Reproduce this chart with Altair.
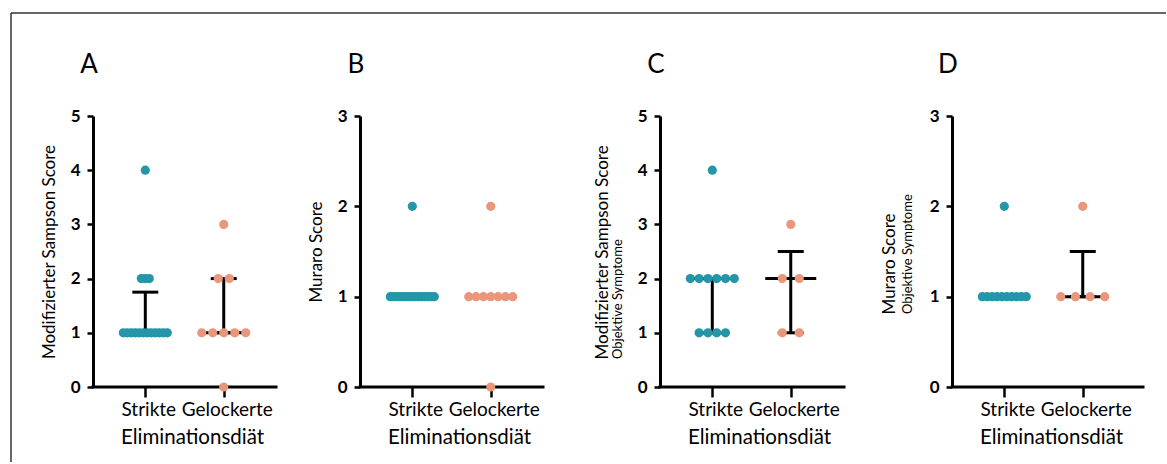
import altair as alt
import numpy as np
import pandas as pd

# ---- data -------------------------------------------------------------
GROUPS = ["Strikte", "Gelockerte"]
GROUP_POS = [1.0, 2.5]

A_STRIKTE = [1, 1, 1, 1, 1, 1, 1, 1, 1, 1, 1, 1, 2, 2, 2, 4]
A_GELOCKERTE = [0, 1, 1, 1, 1, 1, 2, 2, 3]
B_STRIKTE = [1, 1, 1, 1, 1, 1, 1, 1, 1, 1, 1, 1, 1, 1, 1, 2]
B_GELOCKERTE = [0, 1, 1, 1, 1, 1, 1, 1, 2]
C_STRIKTE = [1, 1, 1, 1, 2, 2, 2, 2, 2, 2, 4]
C_GELOCKERTE = [1, 1, 2, 2, 3]
D_STRIKTE = [1, 1, 1, 1, 1, 1, 1, 1, 1, 1, 2]
D_GELOCKERTE = [1, 1, 1, 1, 2]

LETTERS = ["A", "B", "C", "D"]
Y_TITLES = ["Modifizierter Sampson Score", "Muraro Score",
            "Modifizierter Sampson Score", "Muraro Score"]
Y_SUBTITLES = ["", "", "Objektive Symptome", "Objektive Symptome"]
Y_MAX = [5, 3, 5, 3]
X_TITLE = "Eliminationsdiät"

PANEL_VALUES = [
    (A_STRIKTE, A_GELOCKERTE),
    (B_STRIKTE, B_GELOCKERTE),
    (C_STRIKTE, C_GELOCKERTE),
    (D_STRIKTE, D_GELOCKERTE),
]

# ---- layout / style ---------------------------------------------------
BLUE = "#2596A9"
ORANGE = "#E9967A"
FONT = "Lato"
PPU = 52.3                      # pixels per x unit
HEIGHT = 271
PANEL_WIDTHS = [267, 300, 292, 195]
AXIS_LENGTHS = [183, 183, 184, 191]
# y-title placement: (x, y, align) for the main title, x for subtitle
Y_TITLE_POS = [(-44, HEIGHT / 2, "center"), (-44, HEIGHT / 2, "center"),
               (-58, 243, "left"), (-63, 198, "left")]
SUB_X = [0, 0, -42, -44]


def swarm(values, centre):
    """Centred rows of dots per value, compressed to fit the column."""
    counts = pd.Series(sorted(values)).value_counts().sort_index()
    kmax = counts.max()
    step = 17.0 if kmax < 2 else min(17.0, 44.0 / (kmax - 1))
    rows = []
    for v, k in counts.items():
        for i in range(k):
            off = (i - (k - 1) / 2) * step
            rows.append({"x": centre + off / PPU, "y": float(v)})
    return rows


def median_iqr(values, centre):
    q1, med, q3 = np.percentile(values, [25, 50, 75], method="weibull")
    cap = 13 / PPU
    mline = 25.5 / PPU
    segs = [{"x": centre - mline, "x2": centre + mline, "y": med, "y2": med}]
    if q3 > q1:
        segs += [
            {"x": centre, "x2": centre, "y": q1, "y2": q3},
            {"x": centre - cap, "x2": centre + cap, "y": q1, "y2": q1},
            {"x": centre - cap, "x2": centre + cap, "y": q3, "y2": q3},
        ]
    return segs


def panel(i):
    strikte, gelockerte = PANEL_VALUES[i]
    width = PANEL_WIDTHS[i]
    ymax = Y_MAX[i]

    pts = []
    segs = []
    for g, pos, vals in zip(GROUPS, GROUP_POS, (strikte, gelockerte)):
        for r in swarm(vals, pos):
            r["group"] = g
            pts.append(r)
        segs += median_iqr(vals, pos)
    pts = pd.DataFrame(pts)
    segs = pd.DataFrame(segs)
    axis_line = pd.DataFrame([{"x": 0.0, "x2": AXIS_LENGTHS[i] / PPU, "y": 0.0, "y2": 0.0}])

    tx, ty, talign = Y_TITLE_POS[i]
    xenc = alt.X(
        "x:Q",
        scale=alt.Scale(domain=[0, width / PPU], nice=False, zero=False),
        axis=alt.Axis(
            values=GROUP_POS,
            labelExpr="datum.value == 1 ? 'Strikte' : 'Gelockerte'",
            domain=False, grid=False,
            tickSize=10, tickWidth=2.5, tickColor="black",
            labelFont=FONT, labelFontSize=19, labelColor="black",
            labelPadding=3, labelOffset=3, labelOverlap=False, labelAngle=0,
            title=X_TITLE, titleFont=FONT, titleFontSize=20.5,
            titleFontWeight="normal", titleColor="black",
            titleX=99, titleY=50, titleAlign="center", titleBaseline="middle",
        ),
    )
    yenc = alt.Y(
        "y:Q",
        scale=alt.Scale(domain=[0, ymax], nice=False),
        axis=alt.Axis(
            values=list(range(ymax + 1)), format="d", grid=False,
            domainColor="black", domainWidth=3,
            tickColor="black", tickWidth=2.5, tickSize=6,
            labelFont=FONT, labelFontSize=17, labelFontWeight="bold",
            labelColor="black", labelPadding=7,
            title=Y_TITLES[i], titleFont=FONT, titleFontSize=17,
            titleFontWeight="normal", titleColor="black",
            titleAngle=270, titleX=tx, titleY=ty, titleAlign=talign,
            titleBaseline="middle",
        ),
    )

    bars = alt.Chart(segs).mark_rule(color="black", strokeWidth=3).encode(
        x=xenc, x2="x2:Q", y=yenc, y2="y2:Q")
    xline = alt.Chart(axis_line).mark_rule(
        color="black", strokeWidth=3, strokeCap="square").encode(
        x=xenc, x2="x2:Q", y=yenc, y2="y2:Q")
    dots = alt.Chart(pts).mark_point(
        filled=True, size=84, opacity=1, shape="circle").encode(
        x=xenc, y=yenc,
        color=alt.Color("group:N", scale=alt.Scale(domain=GROUPS, range=[BLUE, ORANGE]),
                        legend=None),
    )
    letter = alt.Chart(alt.Data(values=[{"t": LETTERS[i]}])).mark_text(
        font=FONT, fontSize=26, color="black", align="center", baseline="middle"
    ).encode(text="t:N", x=alt.value(-4), y=alt.value(-51))

    layers = [bars, xline, dots, letter]

    if Y_SUBTITLES[i]:
        sub = alt.Chart(alt.Data(values=[{"t": Y_SUBTITLES[i]}])).mark_text(
            font=FONT, fontSize=13, color="black", angle=270,
            align="left", baseline="middle"
        ).encode(text="t:N", x=alt.value(SUB_X[i]), y=alt.value(ty))
        layers.append(sub)

    if i == 0:
        # figure frame (top and left edges)
        frame_top = alt.Chart(alt.Data(values=[{"f": 1}])).mark_rule(
            color="#333333", strokeWidth=1.5).encode(
            x=alt.value(-82), x2=alt.value(1073), y=alt.value(-103))
        frame_left = alt.Chart(alt.Data(values=[{"f": 1}])).mark_rule(
            color="#333333", strokeWidth=1.5).encode(
            x=alt.value(-82), y=alt.value(-103), y2=alt.value(346))
        layers += [frame_top, frame_left]

    return alt.layer(*layers).properties(width=width, height=HEIGHT)


chart = alt.HConcatChart(
    hconcat=[panel(i) for i in range(4)],
    spacing=0,
    bounds="flush",
).properties(
    padding={"left": 10, "top": 12, "right": 0, "bottom": 0},
    background="white",
).configure_view(stroke=None)

chart.save("out.html", embed_options={"renderer": "svg", "actions": False})
